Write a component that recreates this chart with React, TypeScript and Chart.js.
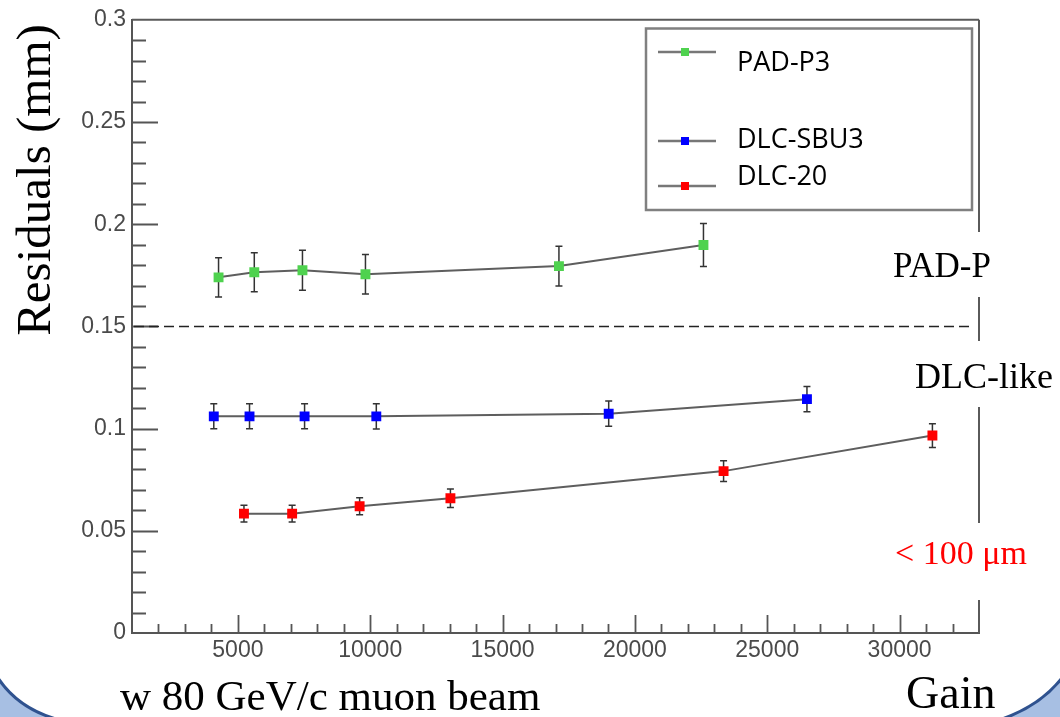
import React, { useEffect, useRef } from 'react';
import { Chart, registerables } from 'chart.js';

Chart.register(...registerables);

// ---- data ----
const seriesLabels = ['PAD-P3', 'DLC-SBU3', 'DLC-20'];
const seriesColors = ['#4fd24f', '#0000ff', '#ff0000'];

const padGain = [4270, 5620, 7440, 9820, 17130, 22590];
const padRes = [0.174, 0.1765, 0.1775, 0.1755, 0.1795, 0.1898];
const padErr = [0.0096, 0.0095, 0.0098, 0.0097, 0.0097, 0.0105];

const sbuGain = [4090, 5440, 7520, 10230, 19010, 26500];
const sbuRes = [0.106, 0.106, 0.106, 0.106, 0.1073, 0.1144];
const sbuErr = [0.0061, 0.0061, 0.0061, 0.0062, 0.0062, 0.0062];

const dlcGain = [5230, 7050, 9600, 13030, 23350, 31240];
const dlcRes = [0.0584, 0.0584, 0.062, 0.0659, 0.0792, 0.0966];
const dlcErr = [0.0041, 0.0041, 0.0042, 0.0045, 0.0051, 0.0058];

const xTicks = [5000, 10000, 15000, 20000, 25000, 30000];
const yTicks = [0, 0.05, 0.1, 0.15, 0.2, 0.25, 0.3];
const thresholdValue = 0.15;
const regionLabels = ['PAD-P', 'DLC-like', '< 100 μm'];
const yTitle = 'Residuals (mm)';
const xTitle = 'w 80 GeV/c muon beam';
const xTitleRight = 'Gain';

const gains = [padGain, sbuGain, dlcGain];
const residuals = [padRes, sbuRes, dlcRes];
const errors = [padErr, sbuErr, dlcErr];

const W = 1060;
const H = 717;

const decorPlugin = {
  id: 'decor',
  beforeDatasetsDraw(chart: any) {
    const { ctx, chartArea: a, scales } = chart;
    const xs = scales.x;
    const ys = scales.y;
    ctx.save();
    // frame top + right
    ctx.strokeStyle = '#5a5a5a';
    ctx.lineWidth = 2;
    ctx.beginPath();
    ctx.moveTo(a.left, a.top);
    ctx.lineTo(a.right, a.top);
    ctx.stroke();
    const gaps = [
      [232, 297],
      [341, 407],
      [523, 600],
    ];
    let start = a.top;
    ctx.beginPath();
    for (const g of gaps) {
      ctx.moveTo(a.right, start);
      ctx.lineTo(a.right, g[0]);
      start = g[1];
    }
    ctx.moveTo(a.right, start);
    ctx.lineTo(a.right, a.bottom);
    ctx.stroke();

    // inner ticks on y
    ctx.strokeStyle = '#555';
    ctx.lineWidth = 1.8;
    ctx.beginPath();
    for (let i = 1; i < 30; i++) {
      const v = i / 100;
      const py = Math.round(ys.getPixelForValue(v)) + 0.5;
      const len = i % 5 === 0 ? 26 : 14;
      ctx.moveTo(a.left, py);
      ctx.lineTo(a.left + len, py);
    }
    // inner ticks on x
    for (let v = 2000; v < 33000; v += 1000) {
      const px = Math.round(xs.getPixelForValue(v)) + 0.5;
      const len = v % 5000 === 0 ? 18 : 9;
      ctx.moveTo(px, a.bottom);
      ctx.lineTo(px, a.bottom - len);
    }
    ctx.stroke();

    // dashed threshold line
    const ty = Math.round(ys.getPixelForValue(thresholdValue)) + 0.5;
    ctx.strokeStyle = '#222';
    ctx.lineWidth = 1.4;
    ctx.setLineDash([10, 5]);
    ctx.beginPath();
    ctx.moveTo(a.left + 2, ty);
    ctx.lineTo(a.right - 7, ty);
    ctx.stroke();
    ctx.setLineDash([]);

    // error bars
    ctx.strokeStyle = '#333';
    ctx.lineWidth = 1.5;
    chart.data.datasets.forEach((ds: any) => {
      ds.data.forEach((p: any, j: number) => {
        const e = ds.errors[j];
        const px = xs.getPixelForValue(p.x);
        const t = ys.getPixelForValue(p.y + e);
        const b = ys.getPixelForValue(p.y - e);
        ctx.beginPath();
        ctx.moveTo(px, t);
        ctx.lineTo(px, b);
        ctx.moveTo(px - 3.5, t);
        ctx.lineTo(px + 3.5, t);
        ctx.moveTo(px - 3.5, b);
        ctx.lineTo(px + 3.5, b);
        ctx.stroke();
      });
    });
    ctx.restore();
  },
  afterDraw(chart: any) {
    const { ctx } = chart;
    ctx.save();
    // legend
    ctx.fillStyle = '#fff';
    ctx.fillRect(646, 28.5, 326, 181.5);
    ctx.strokeStyle = '#808080';
    ctx.lineWidth = 2.5;
    ctx.strokeRect(646, 28.5, 326, 181.5);
    const markerY = [52, 141, 186];
    const textY = [63, 140, 177];
    chart.data.datasets.forEach((ds: any, i: number) => {
      ctx.strokeStyle = '#777';
      ctx.lineWidth = 2.5;
      ctx.beginPath();
      ctx.moveTo(658, markerY[i]);
      ctx.lineTo(716, markerY[i]);
      ctx.stroke();
      ctx.fillStyle = ds.pointBackgroundColor;
      ctx.fillRect(681, markerY[i] - 4, 8, 8);
      ctx.fillStyle = '#000';
      ctx.font = '27px "Open Sans"';
      ctx.textAlign = 'left';
      ctx.textBaseline = 'middle';
      ctx.fillText(ds.label, 737, textY[i]);
    });

    // region labels
    ctx.textBaseline = 'alphabetic';
    ctx.textAlign = 'left';
    ctx.fillStyle = '#000';
    ctx.font = '35px "Liberation Serif"';
    ctx.fillText(regionLabels[0], 893, 277);
    ctx.font = '36px "Liberation Serif"';
    ctx.fillText(regionLabels[1], 915, 388);
    ctx.fillStyle = '#ff0000';
    ctx.font = '34px "Liberation Serif"';
    ctx.fillText(regionLabels[2], 895, 564);

    // axis titles
    ctx.fillStyle = '#000';
    ctx.font = '43px "Liberation Serif"';
    ctx.fillText(xTitle, 120, 710);
    ctx.font = '46px "Liberation Serif"';
    ctx.fillText(xTitleRight, 906, 708);
    ctx.save();
    ctx.translate(50, 180);
    ctx.rotate(-Math.PI / 2);
    ctx.textAlign = 'center';
    ctx.font = '49px "Liberation Serif"';
    ctx.fillText(yTitle, 0, 0);
    ctx.restore();

    // corner decorations
    ctx.fillStyle = '#a7bfe3';
    ctx.strokeStyle = '#2f528f';
    ctx.lineWidth = 3;
    ctx.beginPath();
    ctx.moveTo(-2, 678);
    ctx.quadraticCurveTo(18, 708, 56, 719);
    ctx.lineTo(-2, 719);
    ctx.closePath();
    ctx.fill();
    ctx.beginPath();
    ctx.moveTo(-2, 678);
    ctx.quadraticCurveTo(18, 708, 56, 719);
    ctx.stroke();
    ctx.beginPath();
    ctx.moveTo(1062, 678);
    ctx.quadraticCurveTo(1040, 706, 1002, 719);
    ctx.lineTo(1062, 719);
    ctx.closePath();
    ctx.fill();
    ctx.beginPath();
    ctx.moveTo(1062, 678);
    ctx.quadraticCurveTo(1040, 706, 1002, 719);
    ctx.stroke();
    ctx.restore();
  },
};

export default function App() {
  const ref = useRef<HTMLCanvasElement | null>(null);
  useEffect(() => {
    if (!ref.current) return;
    const tickFont = { family: '"Liberation Sans", Arial, sans-serif', size: 23 };
    const chart = new Chart(ref.current, {
      type: 'line',
      data: {
        datasets: seriesLabels.map((label, i) => ({
          label,
          data: gains[i].map((g, j) => ({ x: g, y: residuals[i][j] })),
          errors: errors[i],
          borderColor: '#5e5e5e',
          borderWidth: 2,
          pointStyle: 'rect',
          pointRadius: 7,
          pointHoverRadius: 7,
          pointBackgroundColor: seriesColors[i],
          pointBorderWidth: 0,
          tension: 0,
          fill: false,
        })) as any,
      },
      options: {
        responsive: false,
        animation: false,
        events: [],
        layout: { padding: { left: 0, top: 17, right: 81, bottom: 0 } },
        plugins: { legend: { display: false }, tooltip: { enabled: false } },
        scales: {
          x: {
            type: 'linear',
            min: 1000,
            max: 33000,
            grid: { display: false, drawTicks: false },
            border: { display: true, color: '#555', width: 2 },
            ticks: {
              font: tickFont,
              color: '#4a4a4a',
              padding: 4,
              maxRotation: 0,
              callback: (v: any) => String(v),
            },
            afterBuildTicks: (s: any) => {
              s.ticks = xTicks.map((v) => ({ value: v }));
            },
            afterFit: (s: any) => {
              s.height = 84;
            },
          },
          y: {
            type: 'linear',
            min: 0,
            max: 0.3,
            grid: { display: false, drawTicks: false },
            border: { display: true, color: '#555', width: 2 },
            ticks: {
              font: tickFont,
              color: '#4a4a4a',
              padding: 6,
              callback: (v: any) => String(Number(Number(v).toFixed(2))),
            },
            afterBuildTicks: (s: any) => {
              s.ticks = yTicks.map((v) => ({ value: v }));
            },
            afterFit: (s: any) => {
              s.width = 132;
            },
          },
        },
      } as any,
      plugins: [decorPlugin],
    });
    return () => chart.destroy();
  }, []);
  return (
    <div style={{ position: 'absolute', left: 0, top: 0, width: W, height: H, background: '#fff' }}>
      <canvas ref={ref} width={W} height={H} style={{ width: W, height: H, display: 'block' }} />
    </div>
  );
}
